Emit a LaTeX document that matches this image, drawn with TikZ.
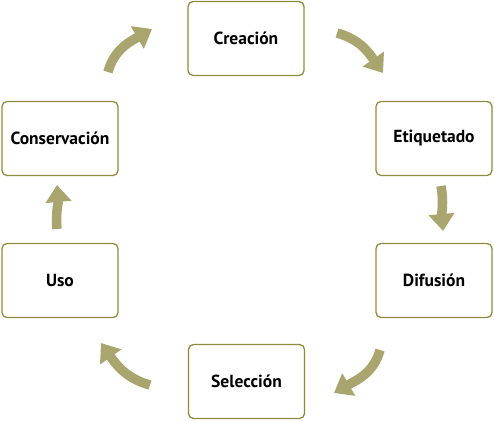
\documentclass[tikz,border=0pt]{standalone}
\usepackage{fontspec}
\setmainfont{PT Sans}
\usetikzlibrary{arrows.meta}
\definecolor{boxline}{HTML}{8D8B3F}
\definecolor{arrowcol}{HTML}{A9A56E}
\tikzset{
  stage/.style={draw=boxline, line width=1.3pt, rounded corners=5pt, minimum width=116pt, minimum height=74pt, inner sep=0pt, font=\fontsize{17.5}{20}\selectfont\bfseries, text=black},
  cyclearrow/.style={draw=arrowcol, line width=9.5pt, -{Triangle[width=25pt,length=17pt]}}
}
\begin{document}
\begin{tikzpicture}[x=1pt,y=1pt]
\useasboundingbox (0,0) rectangle (494,420);
\node[stage] (cre) at (246,381.5) {Creación};
\node[stage] (eti) at (434,281.5) {Etiquetado};
\node[stage] (dif) at (434,139.5) {Difusión};
\node[stage] (sel) at (246.5,38.5) {Selección};
\node[stage] (uso) at (60,139.5) {Uso};
\node[stage] (con) at (60,281.5) {Conservación};
\coordinate (a1s) at (108,348); \coordinate (a1e) at (152,391);
\coordinate (a2s) at (337,387); \coordinate (a2e) at (383,347);
\coordinate (a3s) at (441,234); \coordinate (a3e) at (443,189);
\coordinate (a4s) at (380,70);  \coordinate (a4e) at (334,27);
\coordinate (a5s) at (150,35);  \coordinate (a5e) at (101,77);
\coordinate (a6s) at (57,191);  \coordinate (a6e) at (57,235);
\draw[cyclearrow] (a1s) to[out=75,in=210] (a1e);
\draw[cyclearrow] (a2s) to[out=-15,in=125] (a2e);
\draw[cyclearrow] (a3s) to[out=-80,in=95] (a3e);
\draw[cyclearrow] (a4s) to[out=-105,in=30] (a4e);
\draw[cyclearrow] (a5s) to[out=165,in=-55] (a5e);
\draw[cyclearrow] (a6s) to[out=95,in=-85] (a6e);
\end{tikzpicture}
\end{document}
